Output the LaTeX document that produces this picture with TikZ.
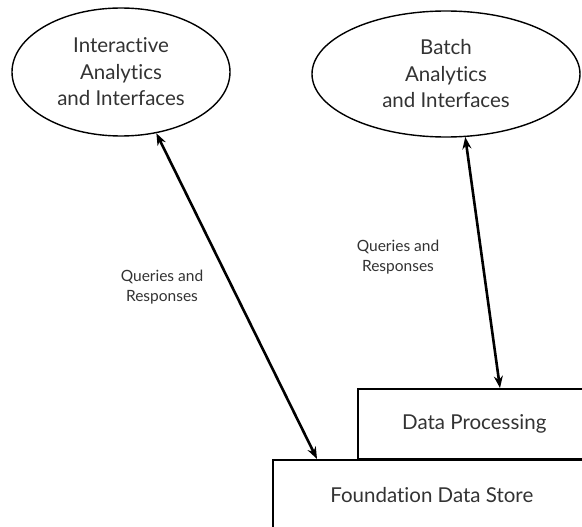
\documentclass[tikz,border=0pt]{standalone}
\usepackage{fontspec}
\setmainfont[Ligatures=NoCommon]{Lato}
\usetikzlibrary{shapes.geometric,arrows.meta,calc}
\begin{document}
\begin{tikzpicture}[x=1pt,y=-1pt,
  txt/.style={text=black!80, font=\fontsize{20.5}{26.5}\selectfont, align=center},
  oval/.style={ellipse, draw=black, line width=1.4pt, inner sep=0pt, txt},
  block/.style={draw=black, line width=1.6pt, inner sep=0pt, anchor=north west, txt},
  note/.style={text=black!80, font=\fontsize{15.5}{20}\selectfont, align=center},
  link/.style={{Stealth[length=12pt,width=9pt]}-{Stealth[length=12pt,width=9pt]}, line width=2.6pt}]
\clip (0,0) rectangle (582,527);
\fill[white] (0,0) rectangle (582,527);

% storage and processing layers (run off the right and bottom edges)
\node[block, minimum width=233pt, minimum height=70pt] (dp) at (357,388) {Data Processing};
\node[block, minimum width=318pt, minimum height=71pt] (fds) at (272,459) {Foundation Data Store};

% analytics front ends
\node[oval, minimum width=218pt, minimum height=128pt] (ia) at (121,72) {Interactive\\Analytics\\and Interfaces};
\node[oval, minimum width=268pt, minimum height=126pt] (ba) at (446,74) {Batch\\Analytics\\and Interfaces};

% arrow end points on the tops of the boxes
\coordinate (fdsin) at ($(fds.north west)+(45,0)$);
\coordinate (dpin) at ($(dp.north west)+(143,0)$);

\draw[link] (ia.-60) -- (fdsin);
\draw[link] (ba.-73) -- (dpin);

\node[note] (q1) at (162,287) {Queries and\\Responses};
\node[note] (q2) at (398,257) {Queries and\\Responses};
\end{tikzpicture}
\end{document}
